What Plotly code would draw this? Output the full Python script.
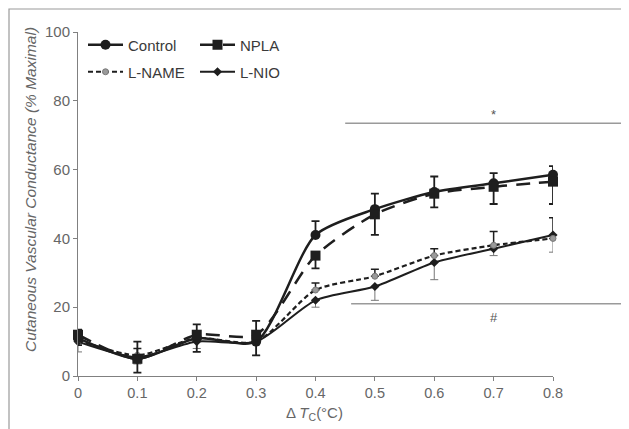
import plotly.graph_objects as go

# ---- data ----
dTc = [0, 0.1, 0.2, 0.3, 0.4, 0.5, 0.6, 0.7, 0.8]
tick_labels = ["0", "0.1", "0.2", "0.3", "0.4", "0.5", "0.6", "0.7", "0.8"]

control = [11, 5, 11, 10, 41, 48.5, 53.5, 56, 58.5]
control_err_up = [2.5, 5, 4, 6, 4, 4.5, 4.5, 3, 2.5]

npla = [12, 5, 12, 12, 35, 47, 53, 55, 56.5]
npla_err_down = [3, 4, 5, 6, 3.7, 6, 4, 5, 6.5]

lname = [10.5, 6, 11, 10, 25, 29, 35, 38, 40]
lname_err_up = [2, 2, 2, 2, 2, 2, 2, 4, 6]

lnio = [10, 5.5, 10, 10, 22, 26, 33, 37, 41]
lnio_err_down = [3, 2, 2, 4, 2, 4, 5, 2, 5]

zeros = [0] * len(dTc)

# significance bars (value ranges)
star_y, star_x0 = 73.5, 0.45
hash_y, hash_x0 = 21, 0.46
star_label_x, star_label_y = 0.70, 76
hash_label_x, hash_label_y = 0.70, 17

X_RANGE = [0, 0.8]
Y_RANGE = [0, 100]

# page body has an 8px default margin; target pixel positions are in window coords
OFF = 8
W, H = 629 - OFF, 429 - OFF
PLOT_L, PLOT_R, PLOT_T, PLOT_B = 78, 553, 32, 376  # window pixels
ML = PLOT_L - OFF
MT = PLOT_T - OFF
MR = W - (PLOT_R - OFF)
MB = H - (PLOT_B - OFF)
PW, PH = PLOT_R - PLOT_L, PLOT_B - PLOT_T

def px_x(X):
    return (X - PLOT_L) / PW

def px_y(Y):
    return (PLOT_B - Y) / PH

def vx(v):
    return (v - X_RANGE[0]) / (X_RANGE[1] - X_RANGE[0])

def vy(v):
    return (v - Y_RANGE[0]) / (Y_RANGE[1] - Y_RANGE[0])

LINE = "#1e1e1e"
GRAY = "#808080"
FONT = "Liberation Sans, Arial, sans-serif"

fig = go.Figure()

fig.add_trace(go.Scatter(
    x=dTc, y=lnio, name="L-NIO", legend="legend2", mode="lines+markers", cliponaxis=False,
    line=dict(color=LINE, width=2, shape="spline", smoothing=0.7),
    marker=dict(symbol="diamond", size=7, color=LINE),
    error_y=dict(type="data", symmetric=False, array=zeros, arrayminus=lnio_err_down,
                 color="#777777", thickness=1, width=4),
))
fig.add_trace(go.Scatter(
    x=dTc, y=lname, name="L-NAME", legend="legend2", mode="lines+markers", cliponaxis=False,
    line=dict(color=LINE, width=2.2, dash="5px,3px", shape="spline", smoothing=0.7),
    marker=dict(symbol="circle", size=6, color="#9a9a9a", line=dict(color="#777777", width=1)),
    error_y=dict(type="data", symmetric=False, array=lname_err_up, arrayminus=zeros,
                 color=LINE, thickness=1.5, width=4),
))
fig.add_trace(go.Scatter(
    x=dTc, y=control, name="Control", legend="legend", mode="lines+markers", cliponaxis=False,
    line=dict(color=LINE, width=2.5, shape="spline", smoothing=0.7),
    marker=dict(symbol="circle", size=10, color=LINE),
    error_y=dict(type="data", symmetric=False, array=control_err_up, arrayminus=zeros,
                 color=LINE, thickness=1.8, width=4),
))
fig.add_trace(go.Scatter(
    x=dTc, y=npla, name="NPLA", legend="legend", mode="lines+markers", cliponaxis=False,
    line=dict(color=LINE, width=2.5, dash="14px,9px", shape="spline", smoothing=0.7),
    marker=dict(symbol="square", size=10, color=LINE),
    error_y=dict(type="data", symmetric=False, array=zeros, arrayminus=npla_err_down,
                 color=LINE, thickness=1.8, width=4),
))

fig.data[2].legendrank = 1
fig.data[3].legendrank = 2
fig.data[1].legendrank = 1
fig.data[0].legendrank = 2

shapes = [
    dict(type="rect", xref="paper", yref="paper", x0=px_x(9), x1=px_x(660), y0=px_y(460), y1=px_y(9),
         line=dict(color="#9a9a9a", width=1.2), fillcolor="rgba(0,0,0,0)", layer="below"),
    dict(type="line", xref="paper", yref="paper", x0=vx(star_x0), x1=px_x(623), y0=vy(star_y), y1=vy(star_y),
         line=dict(color="#9a9a9a", width=1.5)),
    dict(type="line", xref="paper", yref="paper", x0=vx(hash_x0), x1=px_x(623), y0=vy(hash_y), y1=vy(hash_y),
         line=dict(color="#9a9a9a", width=1.5)),
]

annotations = [
    dict(text="*", x=star_label_x, y=star_label_y, xref="x", yref="y", showarrow=False,
         font=dict(size=13, color="#555555", family=FONT)),
    dict(text="#", x=hash_label_x, y=hash_label_y, xref="x", yref="y", showarrow=False,
         font=dict(size=13, color="#555555", family=FONT)),
    dict(text="<i>Cutaneous Vascular Conductance (% Maximal)</i>", x=px_x(30), y=px_y(190),
         xref="paper", yref="paper", showarrow=False, textangle=-90,
         xanchor="center", yanchor="middle",
         font=dict(size=15.5, color="#666666", family=FONT)),
    dict(text="Δ <i>T</i><sub>C</sub>(°C)", x=px_x(314), y=px_y(413),
         xref="paper", yref="paper", showarrow=False, xanchor="center", yanchor="middle",
         font=dict(size=15, color="#666666", family=FONT)),
]

legend_common = dict(orientation="h", xanchor="left", yanchor="middle",
                     bgcolor="rgba(0,0,0,0)", entrywidth=62, entrywidthmode="pixels",
                     itemwidth=35,
                     font=dict(size=15, color="#3a3a3a", family=FONT),
                     itemclick=False, itemdoubleclick=False)

fig.update_layout(
    width=W, height=H,
    margin=dict(l=ML, r=MR, t=MT, b=MB, pad=0),
    paper_bgcolor="white", plot_bgcolor="white",
    showlegend=True,
    legend=dict(x=px_x(83), y=px_y(45), **legend_common),
    legend2=dict(x=px_x(83), y=px_y(72), **legend_common),
    xaxis=dict(range=X_RANGE, tickvals=dTc, ticktext=tick_labels, showgrid=False, zeroline=False,
               showline=True, linecolor=GRAY, linewidth=1, ticks="outside", ticklen=4,
               tickcolor=GRAY, tickfont=dict(size=14.5, color="#666666", family=FONT)),
    yaxis=dict(range=Y_RANGE, dtick=20, showgrid=False, zeroline=False,
               showline=True, linecolor=GRAY, linewidth=1, ticks="outside", ticklen=4,
               tickcolor=GRAY, tickfont=dict(size=15, color="#666666", family=FONT)),
    shapes=shapes,
    annotations=annotations,
)

fig.write_html("out.html")
